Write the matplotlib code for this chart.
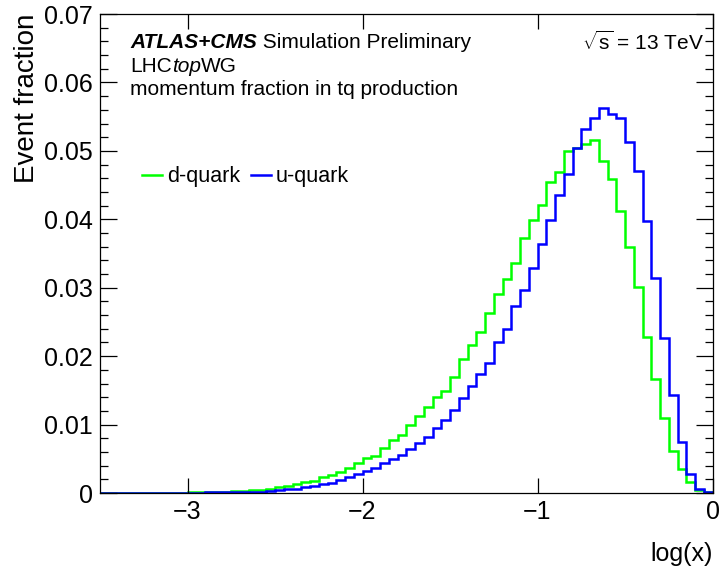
import matplotlib
matplotlib.use("Agg")
import matplotlib.pyplot as plt
import numpy as np

# data #
########

edges = np.linspace(-3.5, 0.0, 71)   # 70 bins of width 0.05 in log(x)

d_quark = [
    0.00001, 0.00001, 0.00002, 0.00002, 0.00003, 0.00003, 0.00004, 0.00005, 0.00006, 0.00007,
    0.00009, 0.00011, 0.00014, 0.00017, 0.00021, 0.00026, 0.00031, 0.00037,
    0.00044, 0.00063, 0.00088, 0.00102, 0.00127, 0.00156, 0.00180, 0.00230,
    0.00263, 0.00312, 0.00360, 0.00433, 0.00507, 0.00546, 0.00653, 0.00775, 0.00843, 0.00994,
    0.01130, 0.01252, 0.01398, 0.01495, 0.01700, 0.01953, 0.02163, 0.02357, 0.02635, 0.02908,
    0.03123, 0.03366, 0.03722, 0.03990, 0.04209, 0.04540, 0.04696, 0.04998, 0.05037, 0.05100,
    0.05159, 0.04856, 0.04584, 0.04126, 0.03600, 0.03015, 0.02284, 0.01661, 0.01091, 0.00618,
    0.00346, 0.00165, 0.00044, 0.00010,
]

u_quark = [
    0.00001, 0.00001, 0.00001, 0.00001, 0.00002, 0.00002, 0.00002, 0.00003, 0.00003, 0.00004,
    0.00005, 0.00006, 0.00008, 0.00010, 0.00012, 0.00014, 0.00017, 0.00020,
    0.00020, 0.00030, 0.00040, 0.00054, 0.00063, 0.00083, 0.00107, 0.00132,
    0.00151, 0.00190, 0.00239, 0.00278, 0.00326, 0.00370, 0.00433, 0.00492, 0.00555, 0.00638,
    0.00726, 0.00823, 0.00955, 0.01067, 0.01213, 0.01384, 0.01569, 0.01739, 0.01895, 0.02202,
    0.02397, 0.02733, 0.02967, 0.03283, 0.03644, 0.03990, 0.04355, 0.04657, 0.05037, 0.05319,
    0.05480, 0.05626, 0.05539, 0.05485, 0.05134, 0.04705, 0.03975, 0.03137, 0.02260, 0.01432,
    0.00750, 0.00278, 0.00054, 0.00010,
]

labels = ["d-quark", "u-quark"]
colors = ["#00ff00", "#0000ff"]

# style #
#########

plt.rcParams['font.family'] = ['Liberation Sans', 'DejaVu Sans']
plt.rcParams['mathtext.fontset'] = 'custom'
plt.rcParams['mathtext.rm'] = 'Liberation Sans'
plt.rcParams['mathtext.it'] = 'Liberation Sans:italic'
plt.rcParams['mathtext.bf'] = 'Liberation Sans:bold'

fig = plt.figure(figsize=(7.2, 5.75), dpi=100)
ax = fig.add_axes([0.1389, 0.1426, 0.8507, 0.8330])

for vals, lab, col in zip([d_quark, u_quark], labels, colors):
    ax.stairs(vals, edges, color=col, lw=1.8, label=lab)

ax.set_xlim(-3.5, 0)
ax.set_ylim(0, 0.07)
ax.set_xticks([-3, -2, -1, 0])
ax.set_xticklabels(["\u22123", "\u22122", "\u22121", "0"])
ax.set_yticks(np.arange(0, 0.071, 0.01))
ax.set_yticklabels(["0", "0.01", "0.02", "0.03", "0.04", "0.05", "0.06", "0.07"])
ax.set_yticks(np.arange(0, 0.0701, 0.002), minor=True)

ax.tick_params(which='both', direction='in', top=True, right=True, labelsize=18)
ax.tick_params(axis='y', which='major', length=12, width=0.9, pad=5)
ax.tick_params(axis='y', which='minor', length=6, width=0.9)
ax.tick_params(axis='x', which='major', length=11, width=0.9, pad=5)
for s in ax.spines.values():
    s.set_linewidth(0.9)

ax.set_xlabel("log(x)", fontsize=18, loc='right', labelpad=13)
ax.set_ylabel("Event fraction", fontsize=20, loc='top', labelpad=3)

leg = ax.legend(loc='center left', bbox_to_anchor=(0.037, 0.66), ncol=2, frameon=False,
                fontsize=15.5, handlelength=0.95, handletextpad=0.2, columnspacing=0.5)

# labels #
##########

fs = 15
t1 = ax.text(0.049, 0.9415, "ATLAS+CMS", transform=ax.transAxes, fontsize=fs,
             fontweight='bold', fontstyle='italic', va='center', ha='left')
ax.annotate(" Simulation Preliminary", xy=(1, 0.5), xycoords=t1, fontsize=fs,
            va='center', ha='left')
t2 = ax.text(0.049, 0.891, "LHC", transform=ax.transAxes, fontsize=fs, va='center')
t3 = ax.annotate("top", xy=(1, 0.5), xycoords=t2, fontsize=fs, fontstyle='italic',
                 va='center', ha='left')
ax.annotate("WG", xy=(1, 0.5), xycoords=t3, fontsize=fs, va='center', ha='left')
ax.text(0.049, 0.843, "momentum fraction in tq production", transform=ax.transAxes,
        fontsize=fs, va='center')
ax.text(0.986, 0.9415, r"$\sqrt{\mathrm{s}}$ = 13 TeV", transform=ax.transAxes, fontsize=fs,
        va='center', ha='right')

fig.savefig("out.png", dpi=100)
